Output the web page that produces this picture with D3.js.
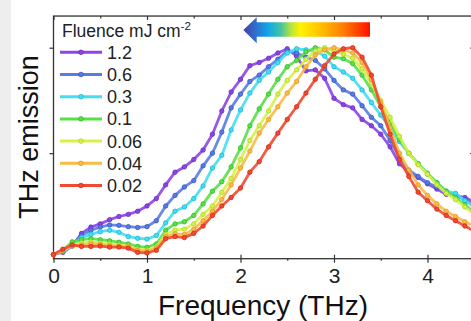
<!DOCTYPE html>
<html>
<head>
<meta charset="utf-8">
<script src="https://cdn.jsdelivr.net/npm/d3@7"></script>
<style>
  html, body { margin: 0; padding: 0; background: #fff; }
  svg { display: block; font-family: "Liberation Sans", Arial, sans-serif; }
  .tick text { font-family: "Liberation Sans", Arial, sans-serif; }
</style>
</head>
<body>
<svg id="chart" width="471" height="321"></svg>
<script>
// ── Data (normalised THz emission vs frequency) ─────────────────────────────
const freqs = [0.0, 0.1, 0.2, 0.3, 0.4, 0.5, 0.6, 0.7, 0.8, 0.9,
               1.0, 1.1, 1.2, 1.3, 1.4, 1.5, 1.6, 1.7, 1.8, 1.9,
               2.0, 2.1, 2.2, 2.3, 2.4, 2.5, 2.6, 2.7, 2.8, 2.9,
               3.0, 3.1, 3.2, 3.3, 3.4, 3.5, 3.6, 3.7, 3.8, 3.9,
               4.0, 4.1, 4.2, 4.3, 4.4, 4.5];

const fluences = ["1.2", "0.6", "0.3", "0.1", "0.06", "0.04", "0.02"];

const em12 = [0.02, 0.03, 0.06, 0.12, 0.15, 0.165, 0.185, 0.2, 0.21, 0.225,
              0.25, 0.285, 0.35, 0.41, 0.435, 0.47, 0.515, 0.59, 0.70, 0.79,
              0.85, 0.915, 0.93, 0.95, 0.975, 0.995, 0.96, 0.89, 0.895, 0.855,
              0.76, 0.73, 0.715, 0.66, 0.63, 0.59, 0.53, 0.45, 0.41, 0.385,
              0.355, 0.33, 0.305, 0.3, 0.29, 0.27];
const em06 = [0.02, 0.035, 0.065, 0.11, 0.135, 0.15, 0.16, 0.158, 0.152, 0.148,
              0.152, 0.18, 0.25, 0.3, 0.34, 0.37, 0.44, 0.5, 0.6, 0.715,
              0.78, 0.84, 0.87, 0.91, 0.945, 0.985, 0.975, 0.955, 0.94, 0.9,
              0.845, 0.8, 0.78, 0.725, 0.67, 0.63, 0.56, 0.48, 0.42, 0.39,
              0.36, 0.34, 0.315, 0.3, 0.28, 0.26];
const em03 = [0.02, 0.035, 0.06, 0.1, 0.115, 0.128, 0.135, 0.125, 0.105, 0.097,
              0.093, 0.11, 0.17, 0.225, 0.245, 0.285, 0.345, 0.43, 0.49, 0.61,
              0.705, 0.785, 0.845, 0.885, 0.93, 0.975, 0.995, 0.99, 0.985, 0.96,
              0.91, 0.885, 0.855, 0.8, 0.74, 0.68, 0.62, 0.555, 0.5, 0.45,
              0.4, 0.36, 0.32, 0.31, 0.275, 0.245];
const em01 = [0.02, 0.04, 0.08, 0.09, 0.095, 0.09, 0.085, 0.078, 0.07, 0.058,
              0.054, 0.07, 0.135, 0.165, 0.175, 0.205, 0.26, 0.32, 0.365, 0.435,
              0.525, 0.63, 0.71, 0.78, 0.85, 0.91, 0.94, 0.98, 1.0, 0.99,
              0.955, 0.948, 0.925, 0.87, 0.8, 0.72, 0.645, 0.565, 0.5, 0.45,
              0.405, 0.36, 0.32, 0.29, 0.255, 0.22];
const em006 = [0.02, 0.04, 0.065, 0.075, 0.08, 0.075, 0.07, 0.065, 0.06, 0.045,
               0.04, 0.055, 0.115, 0.135, 0.14, 0.165, 0.21, 0.25, 0.315, 0.38,
               0.47, 0.56, 0.63, 0.7, 0.78, 0.845, 0.895, 0.945, 0.985, 1.0,
               0.985, 0.97, 0.95, 0.9, 0.83, 0.75, 0.67, 0.58, 0.5, 0.445,
               0.4, 0.35, 0.31, 0.28, 0.245, 0.21];
const em004 = [0.02, 0.04, 0.06, 0.065, 0.07, 0.068, 0.062, 0.06, 0.058, 0.04,
               0.035, 0.05, 0.105, 0.118, 0.115, 0.14, 0.18, 0.225, 0.28, 0.35,
               0.43, 0.51, 0.595, 0.66, 0.72, 0.785, 0.84, 0.91, 0.965, 0.99,
               1.0, 0.99, 0.975, 0.93, 0.85, 0.74, 0.62, 0.5, 0.42, 0.35,
               0.3, 0.26, 0.225, 0.2, 0.175, 0.155];
const em002 = [0.02, 0.045, 0.065, 0.058, 0.058, 0.06, 0.055, 0.055, 0.05, 0.03,
               0.027, 0.04, 0.095, 0.105, 0.1, 0.12, 0.155, 0.205, 0.25, 0.29,
               0.335, 0.41, 0.46, 0.53, 0.595, 0.66, 0.72, 0.785, 0.85, 0.915,
               0.97, 0.995, 1.0, 0.955, 0.87, 0.72, 0.59, 0.47, 0.39, 0.315,
               0.275, 0.235, 0.205, 0.18, 0.155, 0.13];

const xTicks = [0, 1, 2, 3, 4];
const xMinor = [0.5, 1.5, 2.5, 3.5, 4.5];
const yTicks = [0.5, 1.0];

const series = [
  { label: fluences[0], values: em12,  color: "#8c45e6", dark: "#6a2cc0" },
  { label: fluences[1], values: em06,  color: "#5a7be6", dark: "#3456c4" },
  { label: fluences[2], values: em03,  color: "#44def2", dark: "#1cb8d4" },
  { label: fluences[3], values: em01,  color: "#58e048", dark: "#32bb28" },
  { label: fluences[4], values: em006, color: "#d6f24a", dark: "#b0d228" },
  { label: fluences[5], values: em004, color: "#f7bb46", dark: "#e59a20" },
  { label: fluences[6], values: em002, color: "#f04a32", dark: "#d42a16" },
];

// ── Layout ──────────────────────────────────────────────────────────────────
const svg = d3.select("#chart");
const W = 471, H = 321;

const x = d3.scaleLinear().domain([0, 4.5]).range([53.5, 474.25]);
const y = d3.scaleLinear().domain([0, 1.15]).range([258.7, 16.05]);

// light grey strip at the far left
svg.append("rect").attr("x", 0).attr("y", 0).attr("width", 11).attr("height", H)
  .attr("fill", "#eeeeee");

const axisCol = "#333";

// ── Axes ────────────────────────────────────────────────────────────────────
function cleanAxis(g) {
  g.select(".domain").remove();
  g.selectAll(".tick line").attr("stroke", axisCol).attr("stroke-width", 1.2);
}

// bottom: labels + outward major ticks
const gx = svg.append("g").attr("transform", `translate(0,${y(0)})`)
  .call(d3.axisBottom(x).tickValues(xTicks).tickFormat(d3.format("d")).tickSize(4).tickPadding(5))
  .call(cleanAxis);
gx.selectAll(".tick text").attr("font-size", "21px").attr("fill", "#222");

// bottom: inward major + minor ticks
svg.append("g").attr("transform", `translate(0,${y(0)})`)
  .call(d3.axisTop(x).tickValues(xTicks).tickFormat("").tickSize(4))
  .call(cleanAxis);
svg.append("g").attr("transform", `translate(0,${y(0)})`)
  .call(d3.axisBottom(x).tickValues(xMinor).tickFormat("").tickSize(2))
  .call(cleanAxis);

// top: inward ticks
svg.append("g").attr("transform", `translate(0,${y(1.15)})`)
  .call(d3.axisBottom(x).tickValues(xTicks).tickFormat("").tickSize(4))
  .call(cleanAxis);
svg.append("g").attr("transform", `translate(0,${y(1.15)})`)
  .call(d3.axisBottom(x).tickValues(xMinor).tickFormat("").tickSize(2.5))
  .call(cleanAxis);

// left: outward ticks, no labels
svg.append("g").attr("transform", `translate(${x(0)},0)`)
  .call(d3.axisLeft(y).tickValues(yTicks).tickFormat("").tickSize(4))
  .call(cleanAxis);

// right: inward ticks
svg.append("g").attr("transform", `translate(${x(4.5)},0)`)
  .call(d3.axisLeft(y).tickValues(yTicks).tickFormat("").tickSize(4))
  .call(cleanAxis);

// frame
svg.append("rect")
  .attr("x", x(0)).attr("y", y(1.15))
  .attr("width", x(4.5) - x(0)).attr("height", y(0) - y(1.15))
  .attr("fill", "none").attr("stroke", axisCol).attr("stroke-width", 1.3);

// axis titles
svg.append("text")
  .attr("x", 263).attr("y", 315)
  .attr("text-anchor", "middle").attr("font-size", "28px").attr("fill", "#111")
  .text("Frequency (THz)");

svg.append("text")
  .attr("transform", "translate(38,137) rotate(-90)")
  .attr("text-anchor", "middle").attr("font-size", "27px").attr("fill", "#111")
  .text("THz emission");

// ── Lines ───────────────────────────────────────────────────────────────────
const line = d3.line().x((d, i) => x(freqs[i])).y(d => y(d));

const plot = svg.append("g");

series.forEach(s => {
  const g = plot.append("g");
  g.append("path")
    .attr("d", line(s.values))
    .attr("fill", "none")
    .attr("stroke", s.color)
    .attr("stroke-width", 2.8)
    .attr("stroke-opacity", 0.9)
    .attr("stroke-linejoin", "round");
  g.selectAll("circle")
    .data(s.values)
    .join("circle")
    .attr("cx", (d, i) => x(freqs[i]))
    .attr("cy", d => y(d))
    .attr("r", 2.2)
    .attr("fill", s.color)
    .attr("stroke", s.dark)
    .attr("stroke-width", 0.8);
});

// ── Legend ──────────────────────────────────────────────────────────────────
const leg = svg.append("g");
const title = leg.append("text").attr("x", 62).attr("y", 36.5)
  .attr("font-size", "17.5px").attr("fill", "#222");
title.append("tspan").text("Fluence mJ cm");
title.append("tspan").attr("dy", -7).attr("font-size", "11.5px").text("-2");

series.forEach((s, i) => {
  const cy = 52.3 + i * 22.2;
  const row = leg.append("g").attr("transform", `translate(0,${cy})`);
  row.append("line").attr("x1", 60).attr("x2", 102).attr("y1", 0).attr("y2", 0)
    .attr("stroke", s.color).attr("stroke-width", 3);
  row.append("circle").attr("cx", 81).attr("cy", 0).attr("r", 2.3)
    .attr("fill", s.color).attr("stroke", s.dark).attr("stroke-width", 0.8);
  row.append("text").attr("x", 107).attr("y", 6.4)
    .attr("font-size", "18px").attr("fill", "#222")
    .text(s.label);
});

// ── Colour arrow (pointing to higher fluence) ───────────────────────────────
const defs = svg.append("defs");
const grad = defs.append("linearGradient").attr("id", "rainbow")
  .attr("gradientUnits", "userSpaceOnUse")
  .attr("x1", 243).attr("x2", 370).attr("y1", 0).attr("y2", 0);
[[0, "#4b3c9c"], [0.1, "#2f6fd0"], [0.2, "#12a8e6"], [0.3, "#48c4a0"],
 [0.38, "#b8e63a"], [0.45, "#fff200"], [0.6, "#ffc400"], [0.78, "#ff8200"],
 [1, "#ff1000"]].forEach(([o, c]) => grad.append("stop").attr("offset", o).attr("stop-color", c));

svg.append("path")
  .attr("d", "M243.3,30 L256.7,17.3 L256.7,22.3 L370,22.3 L370,36.7 L256.7,36.7 L256.7,43.3 Z")
  .attr("fill", "url(#rainbow)");
</script>
</body>
</html>
